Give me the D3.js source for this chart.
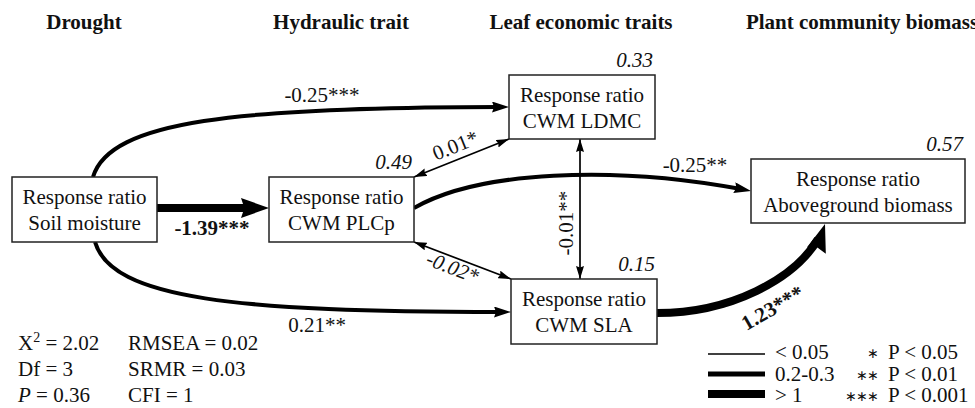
<!DOCTYPE html>
<html lang="en">
<head>
<meta charset="UTF-8">
<title>SEM path diagram</title>
<script src="https://d3js.org/d3.v7.min.js"></script>
<style>
body{
	margin:0;
	background-color:#fff;
}
text{
	font-family:'Liberation Serif','Times New Roman',serif;
	font-size:21px;
	fill:#111;
}
.title{ font-weight:bold; }
.r2{ font-style:italic; }
</style>
</head>
<body>
<svg width="975" height="408"></svg>

<script>
// ---- data ----
const groupTitles = ['Drought', 'Hydraulic trait', 'Leaf economic traits', 'Plant community biomass'];
const nodeIds = ['soil', 'plcp', 'ldmc', 'agb', 'sla'];
const nodeLines = [['Response ratio', 'Soil moisture'], ['Response ratio', 'CWM PLCp'], ['Response ratio', 'CWM LDMC'],
                   ['Response ratio', 'Aboveground biomass'], ['Response ratio', 'CWM SLA']];
const nodeR2 = [null, 0.49, 0.33, 0.57, 0.15];

const pathFrom = ['soil', 'soil', 'soil', 'plcp', 'plcp', 'ldmc', 'plcp', 'sla'];
const pathTo   = ['plcp', 'ldmc', 'sla', 'ldmc', 'sla', 'sla', 'agb', 'agb'];
const pathCoef = [-1.39, -0.25, 0.21, 0.01, -0.02, -0.01, -0.25, 1.23];
const pathSig  = ['***', '***', '**', '*', '*', '**', '**', '***'];
const pathTwoWay = [false, false, false, true, true, true, false, false];

const fitLeft  = ['X', 'Df = 3', 'P'];
const fitLeftVal = [' = 2.02', '', ' = 0.36'];
const fitRight = ['RMSEA = 0.02', 'SRMR = 0.03', 'CFI = 1'];

const legendLabels = ['< 0.05', '0.2-0.3', '> 1'];
const legendValues = [0.01, 0.25, 1.3];
const sigStars = ['\u2217', '\u2217\u2217', '\u2217\u2217\u2217'];
const sigLabels = ['P < 0.05', 'P < 0.01', 'P < 0.001'];

// ---- layout ----
const box = {
  soil: {x: 12,  y: 177, w: 145, h: 65},
  plcp: {x: 269, y: 177, w: 145, h: 65},
  ldmc: {x: 509, y: 75,  w: 146, h: 64},
  agb:  {x: 751, y: 159, w: 214, h: 64},
  sla:  {x: 511, y: 279, w: 146, h: 65}
};
const titleX = [84, 341, 581, 862];

// curve geometry for each path, same order as the path arrays
const geom = [
  'M157,208 L269,208',
  'M93,177 C110,120 240,107 509,107',
  'M95,242 C112,300 240,312 511,312',
  'M414,177 L509,139',
  'M414,242 L511,279',
  'M580,139 L580,279',
  'M414,208 C480,170 620,165 751,191',
  'M657,313 C740,313 810,270 825,224'
];
// label position: x, y, rotation, italic
const labelPos = [
  [212, 235, 0, false],
  [322, 102, 0, false],
  [317, 332, 0, false],
  [458, 152, -22, false],
  [450, 274, 21, true],
  [573, 223, -90, false],
  [695, 172, 0, false],
  [776, 314, -30, false]
];

const svg = d3.select('svg');

// stroke width by effect size
const widthScale = d3.scaleThreshold().domain([0.1, 1]).range([1.7, 4, 8]);
const headSize = {1.7: [13, 8], 4: [17, 11], 8: [28, 20]};

const defs = svg.append('defs');
Object.keys(headSize).forEach(k => {
  const [len, w] = headSize[k];
  defs.append('marker')
    .attr('id', 'head' + String(k).replace('.', '_'))
    .attr('viewBox', `0 ${-w/2} ${len} ${w}`)
    .attr('refX', len).attr('refY', 0)
    .attr('markerWidth', len).attr('markerHeight', w)
    .attr('markerUnits', 'userSpaceOnUse')
    .attr('orient', 'auto-start-reverse')
    .append('path')
    .attr('d', `M0,${-w/2} L${len},0 L0,${w/2} L${len*0.12},0 Z`)
    .attr('fill', '#000');
});

// group titles
svg.selectAll('.title').data(groupTitles).enter().append('text')
  .attr('class', 'title')
  .attr('x', (d, i) => titleX[i]).attr('y', 29)
  .attr('text-anchor', 'middle')
  .text(d => d);

// paths
const headId = d => `url(#head${String(widthScale(Math.abs(d))).replace('.', '_')})`;
const paths = svg.selectAll('.link').data(pathCoef).enter().append('path')
  .attr('class', 'link')
  .attr('d', (d, i) => geom[i])
  .attr('fill', 'none')
  .attr('stroke', '#000')
  .attr('stroke-width', d => widthScale(Math.abs(d)))
  .attr('marker-end', headId)
  .attr('marker-start', (d, i) => pathTwoWay[i] ? headId(d) : null);

// stop thick lines under the arrow head
paths.each(function(d, i) {
  const sw = widthScale(Math.abs(d));
  if (pathTwoWay[i] || sw < 2) return;
  const L = this.getTotalLength();
  d3.select(this).attr('stroke-dasharray', `${L - headSize[sw][0] * 0.6} ${L}`);
});

// boxes
const nodes = svg.selectAll('.node').data(nodeIds).enter().append('g').attr('class', 'node');
nodes.append('rect')
  .attr('x', d => box[d].x).attr('y', d => box[d].y)
  .attr('width', d => box[d].w).attr('height', d => box[d].h)
  .attr('fill', '#fff').attr('stroke', '#222').attr('stroke-width', 1.5);
nodes.each(function(d, i) {
  const b = box[d];
  d3.select(this).selectAll('.lbl').data(nodeLines[i]).enter().append('text')
    .attr('x', b.x + b.w / 2)
    .attr('y', (t, j) => b.y + 27 + j * 26)
    .attr('text-anchor', 'middle')
    .text(t => t);
  if (nodeR2[i] !== null) {
    d3.select(this).append('text')
      .attr('class', 'r2')
      .attr('x', b.x + b.w - 2).attr('y', b.y - 8)
      .attr('text-anchor', 'end')
      .text(nodeR2[i].toFixed(2));
  }
});

// coefficient labels
svg.selectAll('.coef').data(pathCoef).enter().append('text')
  .attr('class', 'coef')
  .attr('transform', (d, i) => `translate(${labelPos[i][0]},${labelPos[i][1]}) rotate(${labelPos[i][2]})`)
  .attr('text-anchor', 'middle')
  .style('font-weight', d => Math.abs(d) > 1 ? 'bold' : null)
  .style('font-style', (d, i) => labelPos[i][3] ? 'italic' : null)
  .text((d, i) => d.toFixed(2) + pathSig[i]);

// model fit
const fit = svg.append('g');
fitLeft.forEach((t, i) => {
  const row = fit.append('text').attr('x', 18).attr('y', 350 + i * 26);
  const first = row.append('tspan').text(t);
  if (t === 'P') first.style('font-style', 'italic');
  if (t === 'X') row.append('tspan').attr('dy', -8).style('font-size', '14px').text('2');
  if (fitLeftVal[i]) row.append('tspan').attr('dy', t === 'X' ? 8 : 0).text(fitLeftVal[i]);
});
fit.selectAll('.fr').data(fitRight).enter().append('text')
  .attr('x', 128).attr('y', (d, i) => 350 + i * 26)
  .text(d => d);

// legend
const leg = svg.append('g');
leg.selectAll('line').data(legendValues).enter().append('line')
  .attr('x1', 708).attr('x2', 765)
  .attr('y1', (d, i) => 354 + i * 20).attr('y2', (d, i) => 354 + i * 20)
  .attr('stroke', '#000')
  .attr('stroke-width', d => widthScale(d) + (d > 0.1 && d < 1 ? 1 : 0));
leg.selectAll('.ll').data(legendLabels).enter().append('text')
  .attr('x', 775).attr('y', (d, i) => 359 + i * 21.5)
  .text(d => d);
leg.selectAll('.ls').data(sigStars).enter().append('text')
  .attr('x', 878).attr('y', (d, i) => 358 + i * 21.5)
  .attr('text-anchor', 'end')
  .style('font-size', '14px')
  .style('letter-spacing', '-1px')
  .text(d => d);
leg.selectAll('.lp').data(sigLabels).enter().append('text')
  .attr('x', 888).attr('y', (d, i) => 359 + i * 21.5)
  .text(d => d);
</script>
</body>
</html>
